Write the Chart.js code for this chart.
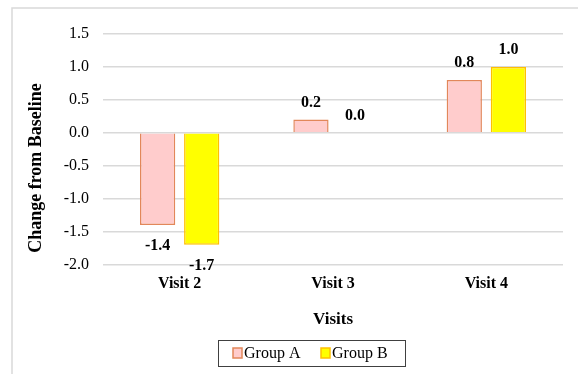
<!DOCTYPE html>
<html>
<head>
<meta charset="utf-8">
<script src="https://cdn.jsdelivr.net/npm/chart.js@4"></script>
<style>
  html, body { margin: 0; padding: 0; background: #ffffff; }
  #wrap { position: relative; width: 578px; height: 374px; }
</style>
</head>
<body>
<div id="wrap"><canvas id="chart" width="578" height="374"></canvas></div>
<script>
// Mean change from baseline by visit
const visits = ['Visit 2', 'Visit 3', 'Visit 4'];
const groupA = [-1.4, 0.2, 0.8];
const groupB = [-1.7, 0.0, 1.0];
const yTicks = [-2.0, -1.5, -1.0, -0.5, 0.0, 0.5, 1.0, 1.5];

const SERIF = '"Liberation Serif", "Times New Roman", serif';

// Outer frame, y-axis title, value labels and boxed legend
const decor = {
  id: 'decor',
  beforeDraw(chart) {
    const ctx = chart.ctx;
    ctx.save();
    ctx.strokeStyle = '#d9d9d9';
    ctx.lineWidth = 1.5;
    ctx.beginPath();
    ctx.moveTo(12, 374);
    ctx.lineTo(12, 8);
    ctx.lineTo(578, 8);
    ctx.stroke();
    ctx.restore();
  },
  afterDatasetsDraw(chart) {
    const ctx = chart.ctx;
    ctx.save();
    ctx.fillStyle = '#000000';
    ctx.font = 'bold 16px ' + SERIF;
    ctx.textAlign = 'center';
    ctx.textBaseline = 'middle';
    chart.data.datasets.forEach((ds, di) => {
      const meta = chart.getDatasetMeta(di);
      meta.data.forEach((bar, i) => {
        const v = ds.data[i];
        const y = v >= 0 ? bar.y - 17 : bar.y + 21;
        ctx.fillText(v.toFixed(1), bar.x, y);
      });
    });
    // y-axis title
    ctx.translate(36, 168);
    ctx.rotate(-Math.PI / 2);
    ctx.font = 'bold 18px ' + SERIF;
    ctx.fillText('Change from Baseline', 0, 0);
    ctx.restore();
  },
  afterDraw(chart) {
    const ctx = chart.ctx;
    ctx.save();
    ctx.strokeStyle = '#404040';
    ctx.lineWidth = 1;
    ctx.strokeRect(218.5, 340.5, 187, 26);
    ctx.font = '16px ' + SERIF;
    ctx.textBaseline = 'middle';
    ctx.textAlign = 'left';
    const starts = [233, 321];
    chart.data.datasets.forEach((ds, i) => {
      const x = starts[i];
      ctx.fillStyle = ds.backgroundColor;
      ctx.strokeStyle = ds.borderColor;
      ctx.lineWidth = 1.5;
      ctx.fillRect(x, 348, 9, 10);
      ctx.strokeRect(x, 348, 9, 10);
      ctx.fillStyle = '#000000';
      ctx.fillText(ds.label, x + 11, 354);
    });
    ctx.restore();
  }
};

new Chart(document.getElementById('chart'), {
  type: 'bar',
  data: {
    labels: visits,
    datasets: [
      {
        label: 'Group A',
        data: groupA,
        backgroundColor: '#ffcccc',
        borderColor: '#e2875a',
        borderWidth: 1.5,
        borderSkipped: 'start',
        barPercentage: 0.8,
        categoryPercentage: 0.575
      },
      {
        label: 'Group B',
        data: groupB,
        backgroundColor: '#ffff00',
        borderColor: '#ffc000',
        borderWidth: 1.5,
        borderSkipped: 'start',
        barPercentage: 0.8,
        categoryPercentage: 0.575
      }
    ]
  },
  options: {
    responsive: false,
    animation: false,
    devicePixelRatio: 1,
    layout: { padding: { left: 0, right: 15, top: 34, bottom: 40 } },
    plugins: {
      tooltip: { enabled: false },
      legend: { display: false }
    },
    scales: {
      x: {
        grid: { display: false, drawTicks: false, tickLength: 0 },
        border: { display: false },
        ticks: {
          color: '#000000',
          font: { family: SERIF, size: 16, weight: 'bold' },
          padding: 10
        },
        title: {
          display: true,
          text: 'Visits',
          color: '#000000',
          font: { family: SERIF, size: 17, weight: 'bold' },
          padding: { top: 6, bottom: 4 }
        }
      },
      y: {
        min: -2.0,
        max: 1.5,
        afterBuildTicks(scale) {
          scale.ticks = yTicks.map(v => ({ value: v }));
        },
        afterFit(scale) { scale.width = 103; },
        grid: { color: '#d9d9d9', lineWidth: 1.5, drawTicks: false },
        border: { display: false },
        ticks: {
          color: '#000000',
          font: { family: SERIF, size: 16 },
          padding: 14,
          callback: v => Number(v).toFixed(1)
        }
      }
    }
  },
  plugins: [decor]
});
</script>
</body>
</html>
